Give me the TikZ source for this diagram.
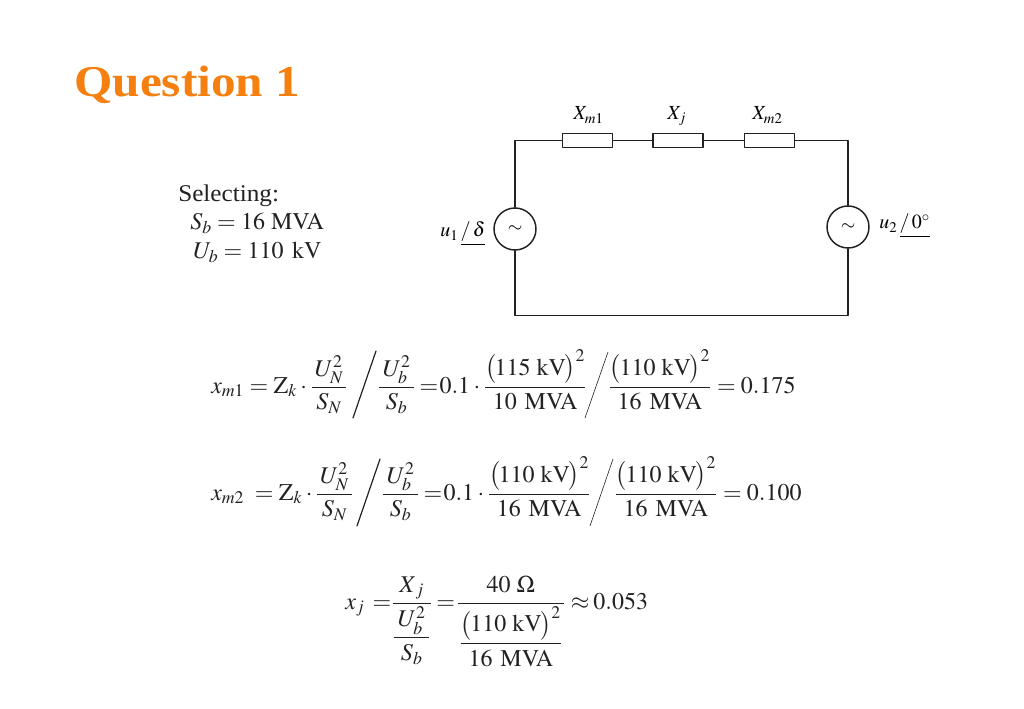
\documentclass[tikz,border=0pt]{standalone}
\usepackage{amsmath}
\usepackage{mathptmx}
\usepackage[no-math]{fontspec}
\setmainfont{Liberation Serif}
\newfontfamily\headfont[FakeStretch=1.12]{Liberation Serif}
\newfontfamily\selfont[FakeStretch=1.05]{Liberation Serif}
\definecolor{titleorange}{HTML}{F5800F}
\definecolor{inkgrey}{HTML}{222222}
\thickmuskip=4mu
\tikzset{
	wire/.style={line width=1.1pt,color=inkgrey},
	elem/.style={draw=inkgrey,line width=1.1pt,fill=white,minimum width=37.5pt,minimum height=10.5pt,inner sep=0pt},
	src/.style={draw=inkgrey,line width=1.1pt,fill=white,circle,minimum size=31.5pt,inner sep=0pt,font=\fontsize{14}{17}\selectfont},
	lbl/.style={inner sep=0pt,anchor=base west,font=\fontsize{15}{18}\selectfont},
	eqn/.style={inner sep=0pt,anchor=base west,color=inkgrey,font=\fontsize{18}{22}\selectfont},
	bigslash/.style={line width=0.9pt,color=inkgrey},
	thinslash/.style={line width=0.45pt,color=inkgrey}
}
\newcommand{\pwr}[1]{\bigl(\mkern-1mu#1\hskip0.25em\mathrm{kV}\mkern-1mu\bigr)^{2}}
\newcommand{\mva}[1]{#1\hskip0.33em\mathrm{MVA}}
\newcommand{\padN}{\dfrac{\,U_N^{2}\,}{S_N}}
\newcommand{\padb}{\dfrac{\mkern2.5mu U_b^{2}\mkern2.5mu}{S_b}}
\newcommand{\tq}{\mkern-1mu=\mkern-3mu}
\begin{document}
\begin{tikzpicture}[x=0.75pt,y=-0.75pt,line cap=round,line join=round]
	\useasboundingbox[fill=white] (0,0) rectangle (1024,709);
	% title and selected base values
	\node[inner sep=0pt,anchor=base west,color=titleorange,font=\fontsize{33}{40}\headfont\bfseries\selectfont] (title) at (74,97) {Question 1};
	\node[eqn] (sel) at (178,202) {\selfont Selecting:};
	\node[eqn] (sb) at (190,230) {$S_b=16\hskip0.25em\mathrm{MVA}$};
	\node[eqn] (ub) at (193,259) {$U_b=110\hskip0.35em\mathrm{kV}$};
	% circuit
	\node[elem] (xm1) at (587.5,140.5) {};
	\node[elem] (xj) at (678,140.5) {};
	\node[elem] (xm2) at (769.5,140.5) {};
	\node[src] (u1) at (515,229) {$\sim$};
	\node[src] (u2) at (848,227) {$\sim$};
	\coordinate (tl) at (515,140.5);
	\coordinate (tr) at (848,140.5);
	\coordinate (bl) at (515,315.5);
	\coordinate (br) at (848,315.5);
	\draw[wire] (u1) -- (tl) -- (xm1);
	\draw[wire] (xm1) -- (xj);
	\draw[wire] (xj) -- (xm2);
	\draw[wire] (xm2) -- (tr) -- (u2);
	\draw[wire] (u2) -- (br) -- (bl) -- (u1);
	\node[lbl] (lm1) at (573,120) {$X_{m1}$};
	\node[lbl] (lj) at (667,120) {$X_{j}$};
	\node[lbl] (lm2) at (752,120) {$X_{m2}$};
	\node[lbl] (lu1) at (440,237) {$u_1\,\underline{/\,\delta}$};
	\node[lbl] (lu2) at (879,229) {$u_2\,\underline{/\,0^{\circ}}$};
	% first equation
	\node[eqn] (a1) at (211,393) {$x_{m1}=\mathrm{Z}_k\cdot\padN$};
	\node[eqn] (a2) at (377.5,393) {$\padb\tq 0.1\cdot\dfrac{\pwr{115}}{\mva{10}}$};
	\node[eqn] (a3) at (608,393) {$\dfrac{\pwr{110}}{\mva{16}}=0.175$};
	\draw[bigslash] (376,351) -- (353,418);
	\draw[thinslash] (608,352) -- (585,418);
	% second equation
	\node[eqn] (b1) at (211,500) {$x_{m2}\mkern4mu=\mathrm{Z}_k\cdot\padN$};
	\node[eqn] (b2) at (381.5,500) {$\padb\tq 0.1\cdot\dfrac{\pwr{110}}{\mva{16}}$};
	\node[eqn] (b3) at (614,500) {$\dfrac{\pwr{110}}{\mva{16}}=0.100$};
	\draw[bigslash] (380,459) -- (357,526);
	\draw[thinslash] (613,459) -- (590,526);
	% third equation
	\node[eqn] (c1) at (345,609) {$x_j\mkern2mu=\mkern-4mu\dfrac{X_{\,j}}{\padb}\tq\dfrac{40\hskip0.25em\Omega}{\mkern1mu\dfrac{\pwr{110}}{\mva{16}}\mkern1mu}\approx\mkern-1mu 0.053$};
\end{tikzpicture}
\end{document}
